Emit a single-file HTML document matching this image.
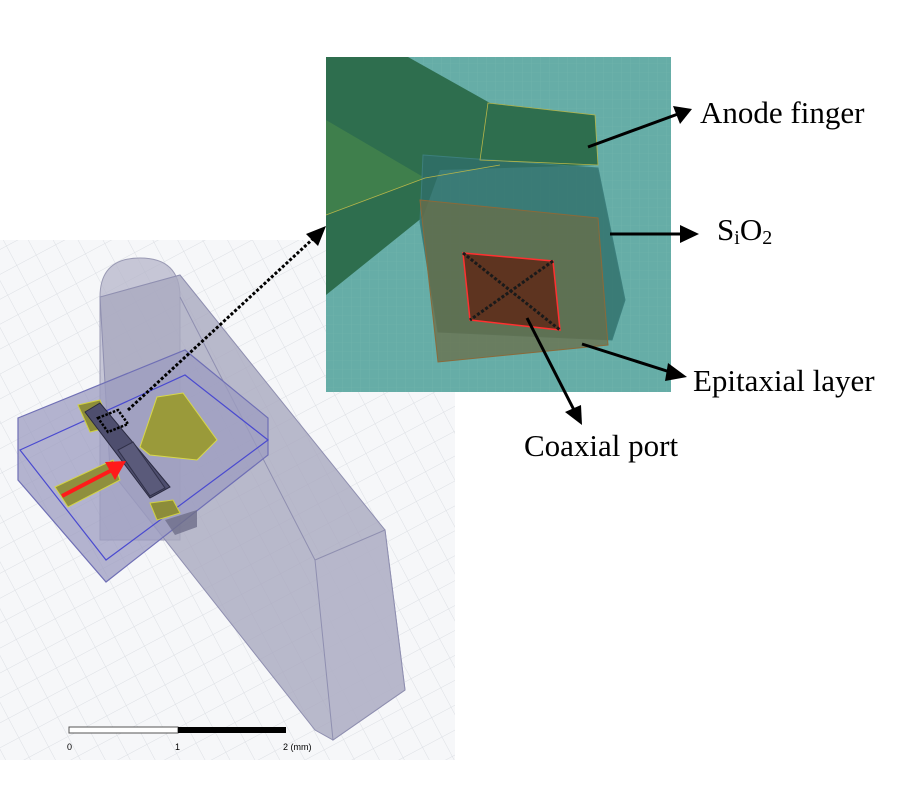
<!DOCTYPE html>
<html><head><style>
body{margin:0;background:#fff;}
svg{display:block;}
text{font-family:"Liberation Serif",serif;fill:#000;}
</style></head><body>
<svg width="900" height="800" viewBox="0 0 900 800" xmlns="http://www.w3.org/2000/svg">
<defs>
<pattern id="g" width="22" height="22" patternUnits="userSpaceOnUse" patternTransform="rotate(-28)">
<path d="M0 0H22M0 0V22" stroke="#dcdfe4" stroke-width="1" fill="none"/>
</pattern>
<pattern id="g2" width="9" height="9" patternUnits="userSpaceOnUse">
<path d="M0 0H9M0 0V9" stroke="#7fbcb4" stroke-width="0.6" fill="none"/>
</pattern>
</defs>
<rect x="0" y="240" width="455" height="520" fill="#f6f7f9"/>
<rect x="0" y="240" width="455" height="520" fill="url(#g)"/>
<!-- waveguide column -->
<path d="M100,297 Q100,258 140,258 Q180,258 180,297 L180,540 L100,540 Z" fill="#b5b5c9" fill-opacity="0.75" stroke="#9a9ab4" stroke-width="1"/>
<!-- slanted prism -->
<path d="M180,275 L385,530 L405,690 L333,740 L315,730 L110,470 L100,297 Z" fill="#a9a9bf" fill-opacity="0.8" stroke="#8f8fb0" stroke-width="1"/>
<path d="M315,560 L385,530 L405,690 L333,740 Z" fill="#b7b7cb" fill-opacity="0.8" stroke="#8f8fb0"/>
<line x1="180" y1="297" x2="315" y2="560" stroke="#8f8fb0"/>
<!-- substrate box -->
<path d="M18,418 L185,350 L268,418 L268,455 L106,582 L18,480 Z" fill="#9c9cc0" fill-opacity="0.75" stroke="#6f6fb5" stroke-width="1.2"/>
<path d="M20,450 L185,375 L268,440 L106,560 Z" fill="none" stroke="#4a4ad0" stroke-width="1.2"/>
<path d="M165,520 L197,510 L197,527 L175,535 Z" fill="#6e6e8a" fill-opacity="0.8"/>
<!-- yellow metal -->
<path d="M157,397 L183,393 L217,440 L197,460 L150,455 L140,447 Z" fill="#9a9a3a" stroke="#d8d84a"/>
<path d="M78,405 L100,400 L110,427 L90,432 Z" fill="#8c8c3a" stroke="#d0d040"/>
<path d="M55,487 L113,460 L120,480 L68,507 Z" fill="#8f8f3e" stroke="#d4d446"/>
<path d="M150,503 L173,500 L180,513 L157,520 Z" fill="#8c8c3a" stroke="#d0d040"/>
<!-- dark chip -->
<path d="M85,412 L100,403 L170,487 L150,498 Z" fill="#4e4e6e" stroke="#2a2a40"/>
<path d="M118,450 L133,442 L165,488 L150,496 Z" fill="#5a5a7a" stroke="#303048"/>
<!-- dotted box and line -->
<path d="M98,418 L118,410 L128,424 L108,432 Z" fill="none" stroke="#000" stroke-width="2.5" stroke-dasharray="2.5,1.5"/>
<line x1="128" y1="410" x2="316" y2="236" stroke="#000" stroke-width="3" stroke-dasharray="3,2"/>
<path d="M326,226 L306,234 L318,246 Z" fill="#000"/>
<!-- red arrow -->
<line x1="62" y1="496" x2="112" y2="470" stroke="#ff1a1a" stroke-width="4"/>
<path d="M126,461 L105,462 L115,480 Z" fill="#ff1a1a"/>
<!-- scale bar -->
<rect x="69" y="727" width="109" height="6" fill="#fff" stroke="#555" stroke-width="1"/>
<rect x="178" y="727" width="108" height="6" fill="#000"/>
<text x="67" y="750" font-size="9" style="font-family:'Liberation Sans',sans-serif" fill="#333">0</text>
<text x="175" y="750" font-size="9" style="font-family:'Liberation Sans',sans-serif" fill="#333">1</text>
<text x="283" y="750" font-size="9" style="font-family:'Liberation Sans',sans-serif" fill="#333">2 (mm)</text>
<!-- inset -->
<rect x="326" y="57" width="345" height="335" fill="#66ada7"/>
<rect x="326" y="57" width="345" height="335" fill="url(#g2)" opacity="0.5"/>
<path d="M326,57 L408,57 L490,103 L595,115 L598,165 L440,170 L423,217 L326,295 Z" fill="#2e6e4e"/>
<path d="M326,120 L425,178 L326,215 Z" fill="#3f7f4c"/>
<path d="M423,155 L598,168 L625,300 L612,340 L438,332 L420,222 Z" fill="#2f6e6a" fill-opacity="0.8" stroke="#3c7f7c"/>
<path d="M420,200 L598,218 L608,345 L438,362 Z" fill="#6b6e48" fill-opacity="0.75" stroke="#8a6a3a"/>
<path d="M488,103 L595,115 L598,165 L480,160 Z" fill="none" stroke="#b5b54a" stroke-width="0.8"/>
<path d="M326,215 L425,178 L500,165" fill="none" stroke="#b5b54a" stroke-width="0.8"/>
<path d="M463,253 L553,261 L560,330 L470,320 Z" fill="#5e3420" stroke="#ff3030" stroke-width="1.5"/>
<line x1="463" y1="253" x2="560" y2="330" stroke="#1a1a1a" stroke-width="3" stroke-dasharray="3,2"/>
<line x1="553" y1="261" x2="470" y2="320" stroke="#1a1a1a" stroke-width="3" stroke-dasharray="3,2"/>
<!-- label arrows -->
<line x1="588" y1="147" x2="678" y2="114" stroke="#000" stroke-width="3"/>
<path d="M692,109 L673,106 L680,124 Z" fill="#000"/>
<line x1="610" y1="234" x2="682" y2="234" stroke="#000" stroke-width="3"/>
<path d="M699,234 L680,225 L680,243 Z" fill="#000"/>
<line x1="582" y1="344" x2="670" y2="372" stroke="#000" stroke-width="3"/>
<path d="M687,377 L668,363 L665,381 Z" fill="#000"/>
<line x1="527" y1="318" x2="574" y2="410" stroke="#000" stroke-width="3"/>
<path d="M582,425 L565,412 L581,405 Z" fill="#000"/>
<!-- labels -->
<text x="700" y="123" font-size="31">Anode finger</text>
<text x="717" y="240" font-size="31">S<tspan font-size="20" dy="4">i</tspan><tspan dy="-4">O</tspan><tspan font-size="20" dy="4">2</tspan></text>
<text x="693" y="391" font-size="31">Epitaxial layer</text>
<text x="524" y="456" font-size="31">Coaxial port</text>
</svg>
</body></html>
